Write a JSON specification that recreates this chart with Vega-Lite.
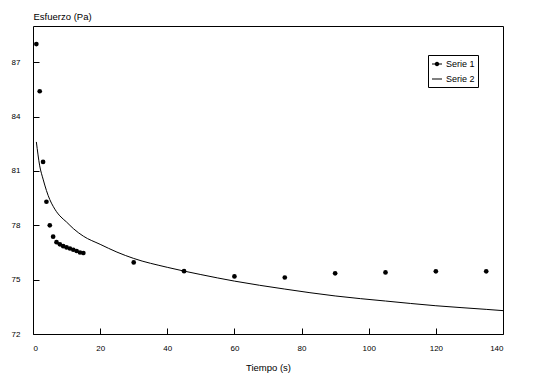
{
  "$schema": "https://vega.github.io/schema/vega-lite/v6.json",
  "width": 470,
  "height": 308,
  "autosize": {"type": "none"},
  "padding": {"left": 33, "top": 26, "right": 36, "bottom": 46},
  "background": "white",
  "config": {
    "font": "Liberation Sans",
    "view": {"stroke": "black", "strokeWidth": 1},
    "axis": {
      "grid": false,
      "domain": false,
      "tickColor": "black",
      "tickWidth": 1,
      "tickSize": 6,
      "offset": -6,
      "labelColor": "black",
      "titleColor": "black",
      "labelFontSize": 8,
      "titleFontSize": 9.5,
      "titleFontWeight": "normal"
    }
  },
  "datasets": {
    "s1": [
      {"t": 1, "v": 88.0, "series": "Serie 1"},
      {"t": 2, "v": 85.4, "series": "Serie 1"},
      {"t": 3, "v": 81.5, "series": "Serie 1"},
      {"t": 4, "v": 79.3, "series": "Serie 1"},
      {"t": 5, "v": 78.0, "series": "Serie 1"},
      {"t": 6, "v": 77.37, "series": "Serie 1"},
      {"t": 7, "v": 77.07, "series": "Serie 1"},
      {"t": 8, "v": 76.95, "series": "Serie 1"},
      {"t": 9, "v": 76.85, "series": "Serie 1"},
      {"t": 10, "v": 76.78, "series": "Serie 1"},
      {"t": 11, "v": 76.72, "series": "Serie 1"},
      {"t": 12, "v": 76.65, "series": "Serie 1"},
      {"t": 13, "v": 76.58, "series": "Serie 1"},
      {"t": 14, "v": 76.5, "series": "Serie 1"},
      {"t": 15, "v": 76.47, "series": "Serie 1"},
      {"t": 30, "v": 75.95, "series": "Serie 1"},
      {"t": 45, "v": 75.47, "series": "Serie 1"},
      {"t": 60, "v": 75.18, "series": "Serie 1"},
      {"t": 75, "v": 75.12, "series": "Serie 1"},
      {"t": 90, "v": 75.35, "series": "Serie 1"},
      {"t": 105, "v": 75.4, "series": "Serie 1"},
      {"t": 120, "v": 75.46, "series": "Serie 1"},
      {"t": 135, "v": 75.46, "series": "Serie 1"}
    ],
    "s2": [
      {"t": 1, "v": 82.6},
      {"t": 2, "v": 81.28},
      {"t": 3, "v": 80.55},
      {"t": 4, "v": 79.92},
      {"t": 5, "v": 79.42},
      {"t": 6, "v": 79.05},
      {"t": 7, "v": 78.75},
      {"t": 8, "v": 78.52},
      {"t": 10, "v": 78.18},
      {"t": 12, "v": 77.82},
      {"t": 15, "v": 77.4},
      {"t": 20, "v": 76.95},
      {"t": 25, "v": 76.52},
      {"t": 30, "v": 76.17},
      {"t": 40, "v": 75.68},
      {"t": 50, "v": 75.28},
      {"t": 60, "v": 74.92},
      {"t": 75, "v": 74.48},
      {"t": 90, "v": 74.1},
      {"t": 105, "v": 73.82},
      {"t": 120, "v": 73.56},
      {"t": 135, "v": 73.36},
      {"t": 140, "v": 73.29}
    ]
  },
  "layer": [
    {
      "data": {"name": "s2"},
      "mark": {"type": "line", "color": "black", "strokeWidth": 1, "interpolate": "monotone"},
      "encoding": {
        "x": {
          "field": "t", "type": "quantitative",
          "scale": {"domain": [0, 140], "nice": false},
          "axis": {"values": [0, 20, 40, 60, 80, 100, 120, 140], "title": "Tiempo (s)", "labelPadding": 10, "titlePadding": 10}
        },
        "y": {
          "field": "v", "type": "quantitative",
          "scale": {"domain": [72, 89], "nice": false, "zero": false},
          "axis": {"values": [72, 75, 78, 81, 84, 87], "title": "Esfuerzo (Pa)", "labelPadding": 13, "titleAngle": 0, "titleAlign": "left", "titleX": -6, "titleY": -10, "titleBaseline": "middle"}
        }
      }
    },
    {
      "data": {"name": "s1"},
      "mark": {"type": "point", "filled": true, "size": 22, "opacity": 1, "color": "black"},
      "encoding": {
        "x": {"field": "t", "type": "quantitative"},
        "y": {"field": "v", "type": "quantitative"}
      }
    },
    {
      "data": {"name": "s1"},
      "mark": {"type": "point", "filled": true, "color": "black", "opacity": 0},
      "encoding": {
        "x": {"field": "t", "type": "quantitative"},
        "y": {"field": "v", "type": "quantitative"},
        "shape": {
          "field": "series", "type": "nominal",
          "scale": {"domain": ["Serie 1", "Serie 2"], "range": ["M-1,-0.1L1,-0.1L1,0.1L-1,0.1Z M-0.45,0A0.45,0.45 0 1 1 0.45,0A0.45,0.45 0 1 1 -0.45,0Z", "M-1,-0.1L1,-0.1L1,0.1L-1,0.1Z"]},
          "legend": {
            "title": null,
            "orient": "none",
            "legendX": 395,
            "legendY": 29,
            "strokeColor": "black",
            "padding": 3,
            "labelFontSize": 9,
            "labelColor": "black",
            "symbolSize": 100,
            "symbolOpacity": 1,
            "symbolFillColor": "black",
            "symbolOffset": 0,
            "labelOffset": 3,
            "rowPadding": 3
          }
        }
      }
    }
  ]
}
